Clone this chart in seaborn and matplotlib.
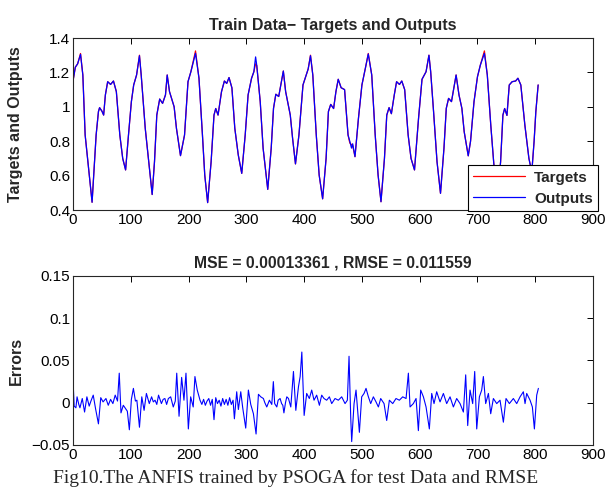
import matplotlib
matplotlib.use("Agg")
import matplotlib.pyplot as plt
import seaborn as sns
import pandas as pd

# ---------------- data ----------------
top_x = [0, 4, 8, 13, 17, 21, 27, 33, 40, 44, 46, 50, 53, 56, 60, 65, 70, 75, 81, 86,
         91, 96, 101, 105, 110, 115, 118, 125, 131, 137, 141, 145, 150, 155, 160, 163, 167, 175, 179, 186,
         193, 199, 204, 212, 218, 224, 228, 233, 239, 244, 247, 251, 257, 262, 266, 270, 275, 280, 286, 292,
         298, 303, 309, 313, 316, 318, 324, 329, 337, 343, 347, 351, 356, 364, 368, 376, 380, 385, 391, 398,
         404, 407, 411, 415, 421, 426, 432, 438, 442, 446, 451, 455, 459, 464, 470, 476, 479, 482, 484, 488,
         494, 500, 506, 511, 517, 523, 528, 533, 539, 543, 547, 551, 556, 560, 565, 569, 574, 580, 585, 591,
         598, 604, 611, 616, 619, 624, 630, 636, 642, 646, 650, 655, 659, 663, 668, 673, 677, 684, 688, 694,
         700, 705, 712, 717, 723, 728, 734, 740, 744, 747, 751, 755, 760, 766, 770, 775, 782, 789, 794, 798,
         801, 805]
outputs = [1.15, 1.23, 1.25, 1.305, 1.185, 0.836, 0.642, 0.445, 0.836, 0.972, 0.995, 0.975, 0.952, 1.069, 1.146, 1.13, 1.15, 1.088, 0.836, 0.70,
           0.633, 0.836, 1.03, 1.127, 1.185, 1.297, 1.185, 0.875, 0.68, 0.49, 0.68, 0.952, 1.045, 1.02, 1.069, 1.185, 1.088, 1.0, 0.875, 0.716,
           0.836, 1.146, 1.204, 1.311, 1.166, 0.836, 0.603, 0.443, 0.68, 0.952, 0.99, 0.952, 1.088, 1.15, 1.136, 1.17, 1.11, 0.875, 0.72, 0.613,
           0.836, 1.069, 1.166, 1.204, 1.29, 1.24, 1.03, 0.759, 0.52, 0.759, 0.991, 1.073, 1.06, 1.208, 1.088, 0.952, 0.817, 0.668, 0.836, 1.127,
           1.189, 1.22, 1.297, 1.185, 0.836, 0.603, 0.465, 0.70, 0.972, 1.014, 0.99, 1.088, 1.16, 1.111, 1.10, 0.836, 0.80, 0.76, 0.785, 0.71,
           0.933, 1.127, 1.224, 1.307, 1.185, 0.836, 0.603, 0.448, 0.70, 0.952, 0.995, 0.96, 1.069, 1.146, 1.13, 1.15, 1.10, 0.836, 0.70, 0.633,
           0.933, 1.16, 1.204, 1.30, 1.204, 0.972, 0.68, 0.497, 0.759, 0.991, 1.049, 1.03, 1.107, 1.185, 1.069, 0.991, 0.855, 0.715, 0.80, 1.03,
           1.175, 1.243, 1.311, 1.185, 0.894, 0.68, 0.46, 0.68, 0.952, 0.99, 0.95, 1.127, 1.146, 1.15, 1.166, 1.127, 0.894, 0.70, 0.62, 0.80,
           0.972, 1.127]
targets = [1.15, 1.23, 1.25, 1.31, 1.185, 0.836, 0.642, 0.445, 0.836, 0.972, 0.995, 0.975, 0.952, 1.069, 1.146, 1.13, 1.15, 1.088, 0.836, 0.70,
           0.633, 0.836, 1.03, 1.127, 1.185, 1.30, 1.185, 0.875, 0.68, 0.49, 0.68, 0.952, 1.045, 1.02, 1.069, 1.185, 1.088, 1.0, 0.875, 0.716,
           0.836, 1.146, 1.204, 1.325, 1.166, 0.836, 0.603, 0.443, 0.68, 0.952, 0.99, 0.952, 1.088, 1.15, 1.136, 1.17, 1.11, 0.875, 0.72, 0.613,
           0.836, 1.069, 1.166, 1.204, 1.25, 1.24, 1.03, 0.759, 0.52, 0.759, 0.991, 1.073, 1.06, 1.208, 1.088, 0.952, 0.817, 0.668, 0.836, 1.127,
           1.189, 1.22, 1.30, 1.185, 0.836, 0.603, 0.465, 0.70, 0.972, 1.014, 0.99, 1.088, 1.16, 1.111, 1.10, 0.836, 0.79, 0.78, 0.775, 0.71,
           0.933, 1.127, 1.224, 1.31, 1.185, 0.836, 0.603, 0.448, 0.70, 0.952, 0.995, 0.96, 1.069, 1.146, 1.13, 1.15, 1.10, 0.836, 0.70, 0.633,
           0.933, 1.16, 1.204, 1.30, 1.204, 0.972, 0.68, 0.497, 0.759, 0.991, 1.049, 1.03, 1.107, 1.185, 1.069, 0.991, 0.855, 0.715, 0.80, 1.03,
           1.175, 1.243, 1.325, 1.185, 0.894, 0.68, 0.46, 0.68, 0.952, 0.99, 0.95, 1.127, 1.146, 1.15, 1.166, 1.127, 0.894, 0.70, 0.62, 0.80,
           0.972, 1.127]

err_x = [0, 2, 5, 7, 10, 12, 16, 20, 24, 28, 31, 35, 39, 44, 48, 52, 57, 61, 65, 69,
         73, 77, 80, 83, 87, 90, 94, 97.5, 101, 104.5, 108, 110.5, 115, 119, 123, 127, 132, 136, 139, 142,
         145, 148, 153, 156, 159, 162, 165, 169, 173.5, 177, 179.5, 183.5, 188, 192, 195.5, 199.6, 203.6, 208, 211, 215,
         219.8, 223, 226, 229, 232, 235, 238, 241, 244, 247, 250, 253, 256, 259, 262, 265, 268, 271, 274, 277,
         279.3, 283.3, 286.2, 290.3, 293.7, 298.9, 303.5, 307.6, 312.2, 316.8, 320.9, 324.9, 329.5, 332, 335.3, 339.9, 344, 346.7, 349, 352.7,
         355, 358.4, 361, 363.1, 365, 367.7, 370, 372.9, 376.9, 381.5, 385.6, 390.2, 393.1, 396, 400, 404.4, 409, 413.1, 417.1, 421.7,
         426.4, 430.4, 434.4, 439, 443.7, 447.7, 453.5, 459.2, 465, 470.8, 474.8, 477.7, 480.6, 482.3, 486.4, 489.8, 492.1, 495.6, 499.6, 503.7,
         507.1, 511.2, 515.2, 519.8, 524.4, 528.5, 532.5, 538.3, 542.9, 547.5, 553.3, 559, 564.8, 570.6, 576.4, 580.4, 583.3, 589, 593.7, 597.7,
         601.7, 606.4, 611, 616.7, 620.8, 624.8, 629.4, 635.2, 641, 646.7, 652.5, 658.3, 664, 669.8, 675.6, 679.6, 683.1, 687.1, 691.7, 695.2,
         698.7, 703.3, 707.3, 710.2, 714.2, 718.9, 722.9, 727.5, 733.3, 739, 744.8, 749.4, 755.2, 762.1, 767.9, 773.7, 779.4, 782.3, 785.2, 791,
         795, 798.5, 802.5, 805.4]
errors = [0.027, -0.004, -0.006, 0.007, -0.002, -0.006, 0.005, -0.011, 0.007, -0.004, 0.002, 0.009, -0.007, -0.025, 0.006, 0.001, 0.005, -0.003, 0.004, -0.001,
          0.009, 0.002, 0.035, -0.012, -0.003, -0.006, -0.010, -0.032, 0.004, 0.017, 0.002, 0.003, -0.029, 0.007, -0.009, 0.011, -0.001, 0.007, 0.001, 0.003,
          -0.002, 0.009, -0.001, 0.004, 0.005, -0.002, 0.005, 0.007, -0.005, 0.002, 0.035, -0.016, 0.030, 0.003, 0.035, -0.031, 0.007, -0.005, 0.031, 0.015,
          0.003, -0.002, 0.004, -0.003, 0.002, 0.005, -0.003, 0.004, -0.020, 0.006, -0.001, 0.003, -0.004, 0.005, -0.002, 0.004, -0.003, 0.006, -0.002, 0.003,
          -0.019, 0.013, -0.008, 0.013, -0.006, -0.030, 0.015, -0.002, -0.013, -0.037, 0.010, 0.007, 0.005, 0.000, -0.005, 0.003, -0.002, 0.025, -0.001, -0.005,
          0.003, 0.005, -0.001, -0.003, -0.012, 0.000, 0.007, 0.005, -0.005, 0.037, -0.009, 0.019, 0.031, 0.060, -0.015, 0.011, 0.005, 0.015, 0.003, 0.009,
          -0.003, 0.009, 0.005, 0.003, 0.007, -0.001, 0.005, 0.003, 0.007, -0.001, 0.003, 0.055, -0.017, -0.046, -0.001, 0.015, -0.005, -0.035, 0.007, 0.011,
          0.017, 0.007, -0.001, 0.007, 0.001, -0.005, 0.005, -0.001, -0.021, 0.003, -0.001, 0.005, 0.003, 0.007, 0.005, 0.035, -0.005, -0.001, 0.005, -0.033,
          0.015, 0.007, -0.005, -0.031, 0.011, -0.001, 0.013, 0.001, 0.011, -0.001, 0.007, -0.005, 0.005, -0.001, -0.011, 0.033, -0.027, 0.015, -0.001, 0.037,
          -0.031, 0.007, 0.015, 0.031, -0.001, 0.011, -0.013, 0.005, -0.001, 0.003, -0.023, 0.005, -0.001, 0.005, -0.001, 0.007, 0.013, -0.001, 0.011, 0.003,
          -0.005, -0.031, 0.009, 0.017]

x_ticks = [0, 100, 200, 300, 400, 500, 600, 700, 800, 900]
top_yticks = [0.4, 0.6, 0.8, 1.0, 1.2, 1.4]
top_ylabels = ["0.4", "0.6", "0.8", "1", "1.2", "1.4"]
bot_yticks = [-0.05, 0.0, 0.05, 0.1, 0.15]
bot_ylabels = ["\u22120.05", "0", "0.05", "0.1", "0.15"]

top_title = "Train Data\u2212 Targets and Outputs"
bot_title = "MSE = 0.00013361 , RMSE = 0.011559"
caption = "Fig10.The ANFIS trained by PSOGA for test Data and RMSE"

# ---------------- style ----------------
sns.set_style("white")
plt.rcParams["font.family"] = ["Liberation Sans", "DejaVu Sans"]
plt.rcParams["axes.linewidth"] = 0.8

fig = plt.figure(figsize=(6.1, 4.91), dpi=100)
ax1 = fig.add_axes([0.1197, 0.5723, 0.8525, 0.3503])
ax2 = fig.add_axes([0.1197, 0.0937, 0.8525, 0.3442])

df_top = pd.DataFrame({"x": top_x, "Targets": targets, "Outputs": outputs})
df_err = pd.DataFrame({"x": err_x, "Errors": errors})

sns.lineplot(data=df_top, x="x", y="Targets", ax=ax1, color="#ff0000", linewidth=0.9, label="Targets")
sns.lineplot(data=df_top, x="x", y="Outputs", ax=ax1, color="#0000ff", linewidth=0.9, label="Outputs")
sns.lineplot(data=df_err, x="x", y="Errors", ax=ax2, color="#0000ff", linewidth=0.8)

for ax in (ax1, ax2):
    ax.set_xlim(0, 900)
    ax.set_xticks(x_ticks)
    ax.set_xticklabels([str(t) for t in x_ticks])
    ax.tick_params(direction="in", top=True, right=True, length=4, width=0.7,
                   labelsize=11, colors="black", pad=2)
    for s in ax.spines.values():
        s.set_color("#262626")
        s.set_linewidth(0.8)
    ax.set_xlabel("")

ax1.set_ylim(0.4, 1.4)
ax1.set_yticks(top_yticks)
ax1.set_yticklabels(top_ylabels)
ax1.set_ylabel("Targets and Outputs", fontsize=11.5, fontweight="bold")
ax1.yaxis.set_label_coords(-0.097, 0.5)
ax1.set_title(top_title, fontsize=11.5, fontweight="bold", pad=6)

ax2.set_ylim(-0.05, 0.15)
ax2.set_yticks(bot_yticks)
ax2.set_yticklabels(bot_ylabels)
ax2.set_ylabel("Errors", fontsize=11.5, fontweight="bold")
ax2.yaxis.set_label_coords(-0.094, 0.5)
ax2.set_title(bot_title, fontsize=11.3, fontweight="bold", pad=6)

leg = ax1.legend(loc="lower right", bbox_to_anchor=(1.01, -0.006), frameon=True,
                 fancybox=False, edgecolor="black", framealpha=1,
                 prop={"weight": "bold", "size": 11}, handlelength=3.4,
                 borderpad=0.35, labelspacing=0.45, handletextpad=0.6, borderaxespad=0)
leg.get_frame().set_linewidth(0.8)

fig.text(0.485, 0.026, caption, ha="center", va="center",
         family=["Liberation Serif", "DejaVu Serif"], fontsize=14)

fig.savefig("out.png", dpi=100)
